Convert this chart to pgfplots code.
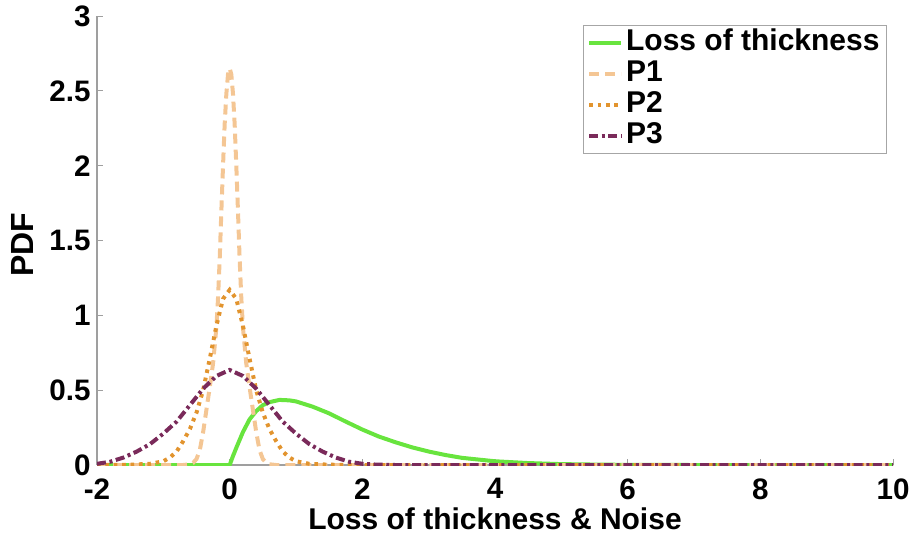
\documentclass[border=0pt]{standalone}
\usepackage{fontspec}
\setmainfont{Liberation Sans}
\usepackage{pgfplots}
\pgfplotsset{compat=1.18}
\definecolor{cgreen}{RGB}{104,228,62}
\definecolor{cpeach}{RGB}{244,198,148}
\definecolor{corange}{RGB}{226,148,46}
\definecolor{cpurple}{RGB}{122,42,90}
\begin{document}
\begin{tikzpicture}
\begin{axis}[
  at={(0,0)}, anchor=south west,
  scale only axis, width=398pt, height=224.5pt,
  xmin=-2, xmax=10, ymin=0, ymax=3,
  axis x line=bottom, axis y line=left,
  axis line style={-, draw=gray!75, line width=0.6pt},
  tick align=inside, major tick length=3pt,
  every tick/.style={gray!75, line width=0.5pt},
  xtick={-2,0,2,4,6,8,10}, xticklabels={-2,0,2,4,6,8,10},
  ytick={0,0.5,1,1.5,2,2.5,3}, yticklabels={0,0.5,1,1.5,2,2.5,3},
  tick label style={font=\bfseries\fontsize{14.8}{14.8}\selectfont, inner sep=0pt},
  xticklabel style={anchor=north, yshift=-6.5pt, text depth=0pt},
  yticklabel style={anchor=east, xshift=-3pt},
  xlabel={Loss of thickness \& Noise},
  ylabel={PDF},
  every axis x label/.style={at={(rel axis cs:0.5,0)}, anchor=north, yshift=-21pt, inner sep=0pt, font=\bfseries\fontsize{15}{15}\selectfont},
  every axis y label/.style={at={(rel axis cs:-0.0936,0.491)}, anchor=center, rotate=90, inner sep=0pt, font=\bfseries\fontsize{16}{16}\selectfont},
  legend style={at={(rel axis cs:0.9925,0.98)}, anchor=north east, draw=gray!70, line width=0.5pt, fill=white,
    font=\bfseries\fontsize{15}{15}\selectfont, inner xsep=2pt, inner ysep=1pt, row sep=0pt,
    nodes={inner xsep=1.5pt, inner ysep=0.5pt, text height=11pt, text depth=3.5pt}},
  legend cell align=left,
  legend image code/.code={\draw[#1] (0pt,0pt) -- (16pt,0pt);},
]
\addplot[cgreen, line width=2pt] coordinates {
(-2,0) (0,0) (0.05,0.06) (0.1,0.115) (0.2,0.22) (0.3,0.305) (0.4,0.36) (0.5,0.40) (0.6,0.42)
(0.75,0.435) (0.9,0.432) (1.0,0.425) (1.25,0.39) (1.5,0.345) (1.75,0.29) (2.0,0.237)
(2.25,0.19) (2.5,0.152) (2.75,0.118) (3.0,0.09) (3.25,0.067) (3.5,0.048) (4.0,0.025)
(4.5,0.013) (5.0,0.006) (5.5,0.003) (6.0,0.001) (7.0,0) (10,0)};
\addlegendentry{Loss of thickness}
\addplot[cpeach, line width=2pt, dash pattern=on 5pt off 3pt] coordinates {
(-2,0) (-0.7,0) (-0.6,0.005) (-0.55,0.015) (-0.5,0.04) (-0.45,0.10) (-0.4,0.22) (-0.35,0.37)
(-0.3,0.52) (-0.25,0.68) (-0.2,0.92) (-0.175,1.12) (-0.15,1.38) (-0.125,1.70) (-0.1,2.0)
(-0.075,2.28) (-0.05,2.48) (-0.025,2.61) (0,2.65)
(0.025,2.61) (0.05,2.48) (0.075,2.28) (0.1,2.0) (0.125,1.70) (0.15,1.38) (0.175,1.12)
(0.2,0.92) (0.25,0.68) (0.3,0.52) (0.35,0.37) (0.4,0.22) (0.45,0.10) (0.5,0.04)
(0.55,0.015) (0.6,0.005) (0.7,0) (10,0)};
\addlegendentry{P1}
\addplot[corange, line width=2pt, dash pattern=on 1.8pt off 2.4pt] coordinates {
(-2,0) (-1.5,0.002) (-1.2,0.008) (-1.0,0.025) (-0.9,0.05) (-0.8,0.09) (-0.7,0.16) (-0.6,0.24)
(-0.5,0.35) (-0.4,0.50) (-0.3,0.71) (-0.2,0.93) (-0.1,1.11) (0,1.17)
(0.1,1.11) (0.2,0.93) (0.3,0.71) (0.4,0.50) (0.5,0.35) (0.6,0.24) (0.7,0.16) (0.8,0.09)
(0.9,0.05) (1.0,0.025) (1.2,0.008) (1.5,0.002) (2,0) (10,0)};
\addlegendentry{P2}
\addplot[cpurple, line width=2pt, dash pattern=on 4.5pt off 1.8pt on 1.5pt off 1.8pt] coordinates {
(-2,0.008) (-1.8,0.022) (-1.6,0.05) (-1.4,0.09) (-1.2,0.14) (-1.0,0.21) (-0.8,0.29)
(-0.6,0.40) (-0.4,0.51) (-0.2,0.595) (0,0.635)
(0.2,0.595) (0.4,0.51) (0.6,0.40) (0.8,0.29) (1.0,0.21) (1.2,0.14) (1.4,0.09) (1.6,0.05)
(1.8,0.022) (2.0,0.008) (2.2,0.003) (2.5,0) (10,0)};
\addlegendentry{P3}
\end{axis}
\pgfresetboundingbox
\useasboundingbox (-48.5pt,-36.5pt) rectangle (409pt,232.5pt);
\end{tikzpicture}
\end{document}
